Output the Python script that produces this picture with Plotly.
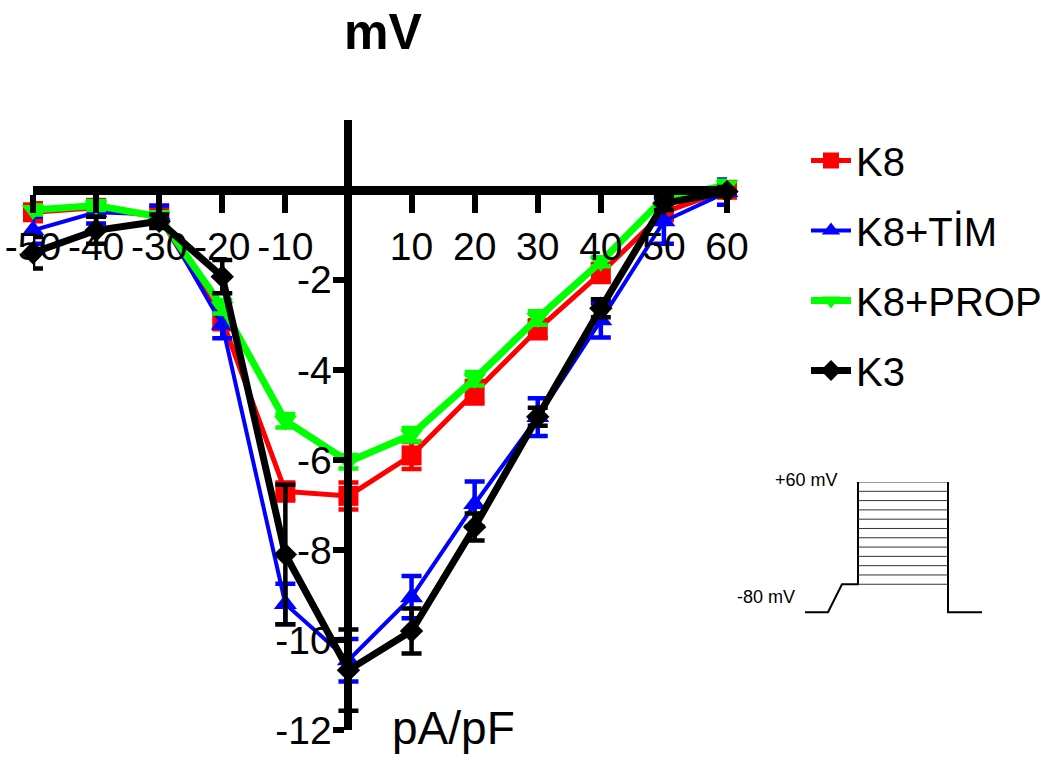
import plotly.graph_objects as go

# ---- data ----
voltage = [-50, -40, -30, -20, -10, 0, 10, 20, 30, 40, 50, 60]

k8 = [-0.5, -0.4, -0.6, -2.9, -6.7, -6.8, -5.9, -4.5, -3.1, -1.85, -0.5, 0.0]
k8_err = [0.2, 0.15, 0.1, 0.2, 0.2, 0.3, 0.3, 0.25, 0.2, 0.2, 0.15, 0.1]

k8_tim = [-0.9, -0.5, -0.55, -3.0, -9.2, -10.45, -9.05, -6.98, -5.05, -2.9, -0.7, -0.05]
k8_tim_err = [0.3, 0.25, 0.2, 0.3, 0.45, 0.47, 0.47, 0.5, 0.42, 0.38, 0.5, 0.28]

k8_prop = [-0.45, -0.35, -0.6, -2.6, -5.13, -6.04, -5.44, -4.2, -2.85, -1.6, -0.18, 0.1]
k8_prop_err = [0.1, 0.1, 0.1, 0.15, 0.15, 0.15, 0.15, 0.15, 0.15, 0.1, 0.1, 0.1]

k3 = [-1.4, -0.9, -0.7, -1.93, -8.1, -10.67, -9.8, -7.49, -5.04, -2.63, -0.3, -0.04]
k3_err = [0.35, 0.3, 0.15, 0.37, 1.55, 0.9, 0.5, 0.3, 0.2, 0.2, 0.15, 0.1]

x_ticks = [-50, -40, -30, -20, -10, 10, 20, 30, 40, 50, 60]
y_ticks = [-12, -10, -8, -6, -4, -2]

# protocol inset
holding_mv = -80
step_mv = [-50, -40, -30, -20, -10, 0, 10, 20, 30, 40, 50, 60]
t_hold_end, t_ramp_end, t_step_start, t_step_end, t_end = 23, 37, 53, 143, 177

X_RANGE = [-50, 60]
Y_RANGE = [-12, 1.55]

W, H = 1041, 762
ML, MR, MT, MB = 33, 0, 120, 32
PW = W - ML - MR
PH = H - MT - MB

main_dom_x = [0, 694 / PW]
xpos_paper = (0 - Y_RANGE[0]) / (Y_RANGE[1] - Y_RANGE[0])
ypos_paper = main_dom_x[0] + (0 - X_RANGE[0]) / (X_RANGE[1] - X_RANGE[0]) * (main_dom_x[1] - main_dom_x[0])

REG = "Liberation Sans, Arial, sans-serif"


def px_x(p):
    return (p - ML) / PW


def px_y(p):
    return (MT + PH - p) / PH


fig = go.Figure()

series = [
    ("K8", k8, k8_err, "#FF0000", "square", 20, 5),
    ("K8+TİM", k8_tim, k8_tim_err, "#0000FF", "triangle-up", 20, 4),
    ("K8+PROP", k8_prop, k8_prop_err, "#00FF00", "triangle-down", 20, 7),
    ("K3", k3, k3_err, "#000000", "diamond", 18, 7),
]
for i, (name, ys, errs, col, sym, msize, lw) in enumerate(series):
    fig.add_trace(go.Scatter(
        x=voltage, y=ys, name=name, mode="lines+markers",
        line=dict(color=col, width=lw),
        marker=dict(symbol=sym, size=msize, color=col),
        error_y=dict(type="data", array=errs, visible=True, color=col,
                     thickness=4.5, width=10),
        cliponaxis=False, legendgroup=f"g{i}",
    ))

# protocol inset traces
outline_x = [0, t_hold_end, t_ramp_end, t_step_start, t_step_start, None,
             t_step_end, t_step_end, t_end]
outline_y = [holding_mv, holding_mv, step_mv[0], step_mv[0], step_mv[-1], None,
             step_mv[-1], holding_mv, holding_mv]
fig.add_trace(go.Scatter(x=outline_x, y=outline_y, mode="lines",
                         line=dict(color="black", width=2),
                         xaxis="x2", yaxis="y2", showlegend=False,
                         hoverinfo="skip", cliponaxis=False))
sx, sy = [], []
for v in step_mv:
    sx += [t_step_start, t_step_end, None]
    sy += [v, v, None]
fig.add_trace(go.Scatter(x=sx, y=sy, mode="lines",
                         line=dict(color="#333333", width=1),
                         xaxis="x2", yaxis="y2", showlegend=False,
                         hoverinfo="skip", cliponaxis=False))

fig.update_layout(
    width=W, height=H,
    margin=dict(l=ML, r=MR, t=MT, b=MB, autoexpand=False),
    paper_bgcolor="white", plot_bgcolor="white",
    showlegend=True,
    legend=dict(x=px_x(806), y=px_y(128), xanchor="left", yanchor="top",
                font=dict(family=REG, size=40, color="black"),
                tracegroupgap=15, itemwidth=40, bgcolor="rgba(0,0,0,0)"),
    xaxis=dict(range=X_RANGE, domain=main_dom_x, anchor="free", position=xpos_paper,
               showline=True, linecolor="black", linewidth=9,
               ticks="outside", ticklen=18, tickwidth=6, tickcolor="black",
               tickvals=x_ticks, ticktext=[str(v) for v in x_ticks],
               tickfont=dict(family=REG, size=39, color="black"),
               showgrid=False, zeroline=False, layer="above traces"),
    yaxis=dict(range=Y_RANGE, domain=[0, 1], anchor="free", position=ypos_paper,
               showline=True, linecolor="black", linewidth=8,
               ticks="outside", ticklen=11, tickwidth=6, tickcolor="black",
               ticklabelstandoff=-6,
               tickvals=y_ticks, ticktext=[str(v) for v in y_ticks],
               tickfont=dict(family=REG, size=39, color="black"),
               showgrid=False, zeroline=False, layer="above traces"),
    xaxis2=dict(range=[0, t_end], domain=[px_x(805), px_x(982)],
                anchor="y2", visible=False),
    yaxis2=dict(range=[-82, 60], domain=[px_y(614), px_y(482)],
                anchor="x2", visible=False),
    annotations=[
        dict(text="<b>mV</b>", xref="paper", yref="paper",
             x=px_x(383), y=px_y(32), showarrow=False,
             xanchor="center", yanchor="middle",
             font=dict(family=REG, size=50, color="black")),
        dict(text="pA/pF", xref="paper", yref="paper",
             x=px_x(390), y=px_y(728), showarrow=False,
             xanchor="left", yanchor="middle",
             font=dict(family=REG, size=46, color="black")),
        dict(text="+60 mV", xref="paper", yref="paper",
             x=px_x(840), y=px_y(480), showarrow=False,
             xanchor="right", yanchor="middle",
             font=dict(family=REG, size=18, color="black")),
        dict(text="-80 mV", xref="paper", yref="paper",
             x=px_x(797), y=px_y(597), showarrow=False,
             xanchor="right", yanchor="middle",
             font=dict(family=REG, size=18, color="black")),
    ],
)

fig.write_html("out.html")
